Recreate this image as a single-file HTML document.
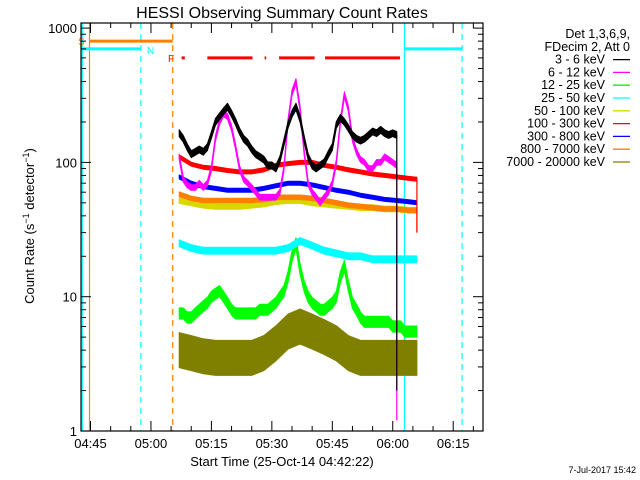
<!DOCTYPE html>
<html><head><meta charset="utf-8">
<style>
html,body{margin:0;padding:0;background:#fff;}
svg{display:block;font-family:"Liberation Sans",sans-serif;}
</style></head>
<body>
<svg id="chart" width="640" height="480" viewBox="0 0 640 480">
<text x="282" y="18" font-size="16" text-anchor="middle">HESSI Observing Summary Count Rates</text>
<g id="marks"></g>
<g id="axes"></g>
<text transform="translate(34,226) rotate(-90)" font-size="13" text-anchor="middle">Count Rate (s<tspan dy="-5" font-size="9">−1</tspan><tspan dy="5"> detector</tspan><tspan dy="-5" font-size="9">−1</tspan><tspan dy="5">)</tspan></text>
<text x="282" y="466" font-size="13" text-anchor="middle">Start Time (25-Oct-14 04:42:22)</text>
<text x="636" y="473" font-size="9" text-anchor="end">7-Jul-2017 15:42</text>
<g id="legend" font-size="12.5" text-anchor="end"></g>
</svg>
<script>
// time in minutes after 04:45
const tickLabels = ["04:45","05:00","05:15","05:30","05:45","06:00","06:15"];
const tickMinutes = [0,15,30,45,60,75,90];
const yTickValues = [1,10,100,1000];
const yTickLabels = ["1","10","100","1000"];
const startMin = 22;
const black = [165,150,130,115,120,125,120,130,160,200,220,240,260,230,200,170,150,140,125,115,110,105,95,95,90,105,140,190,230,260,210,150,110,95,90,95,100,115,130,190,215,200,180,160,150,145,150,160,170,165,175,165,160,165,160];
const magenta = [110,75,68,65,65,70,65,70,90,150,200,230,220,180,130,90,75,70,65,60,55,55,55,55,55,60,90,200,330,400,250,120,70,60,55,50,55,60,70,100,200,320,250,150,120,105,100,90,90,100,100,110,105,100,95];
const green = [7.5,7.5,7,7,7.5,8,8.5,9,10,10.5,11,10,9,8,7.5,7.5,7.5,7.5,7.5,7.5,8,8,8,8.5,9,10,11,14,20,25,16,12,10,9,8.5,8,8,8.5,9,10,14,17,12,9,8,7,6.5,6.5,6.5,6.5,6.5,6.5,6.5,6,6,6,5.5,5.5,5.5,5.5];
const tFlat = [22,25,28,31,34,37,40,43,46,49,52,55,58,61,64,67,70,73,76,79,81];
const red = [110,97,92,90,87,85,85,88,95,98,100,100,95,92,88,85,82,80,78,76,75];
const blue = [78,70,66,64,62,62,62,64,67,70,70,68,65,62,60,57,55,53,52,51,50];
const orange = [58,54,52,52,52,52,52,53,55,55,55,54,52,50,48,47,46,45,45,44,44];
const yellow = [52,50,48,47,47,47,48,49,51,52,52,50,49,48,47,46,46,45,45,44,44];
const cyan = [25,23,22,22,22,22,22,22,22,23,26,24,22,21,20,20,19,19,19,19,19];
const olive = [4,3.8,3.6,3.5,3.5,3.5,3.5,3.8,4.5,5.5,6,5.5,5,4.5,3.8,3.5,3.5,3.5,3.5,3.5,3.5];
const legendLabels = ["3 - 6 keV","6 - 12 keV","12 - 25 keV","25 - 50 keV","50 - 100 keV","100 - 300 keV","300 - 800 keV","800 - 7000 keV","7000 - 20000 keV"];
const legendColors = ["#000000","#ff00ff","#00ff00","#00ffff","#d8d800","#ff0000","#0000ff","#ff8000","#808000"];

const NS="http://www.w3.org/2000/svg";
const L=81,R=483,T=23,B=431;
function xOf(m){return 90.5+4.03*m;}
function yOf(v){return 431-134.3*Math.log10(v);}
function mk(tag,attrs,parent){const e=document.createElementNS(NS,tag);for(const k in attrs)e.setAttribute(k,attrs[k]);parent.appendChild(e);return e;}
const marks=document.getElementById('marks'),axes=document.getElementById('axes'),leg=document.getElementById('legend');

function vline(m,color,dash,name){const e=mk('line',{x1:xOf(m),x2:xOf(m),y1:T,y2:B,stroke:color,'stroke-width':1.2,'stroke-dasharray':dash||'none'},marks);

}
vline(-2.05,"#00ffff","", "night-end-prev-line");
vline(-0.25,"#ff8000","", "saa-start-line");
vline(12.5,"#00ffff","6,5","night-end-line");
vline(20.4,"#ff8000","6,5","saa-end-line");
vline(77.9,"#00ffff","", "night-start-line");
vline(92.2,"#00ffff","6,5","night2-end-line");
function hbar(m1,m2,v,color,w,name){const e=mk('line',{x1:xOf(m1),x2:xOf(m2),y1:yOf(v),y2:yOf(v),stroke:color,'stroke-width':w},marks);

}
hbar(-0.25,20.4,800,"#ff8000",3,"saa-bar");
hbar(-2.3,12.5,700,"#00ffff",3,"night-bar");
hbar(77.9,92.2,700,"#00ffff",3,"night2-bar");
const flareSegs=[[22.6,23.4],[29,40.2],[43.2,43.6],[46.8,55.6],[58.2,76.8]];
flareSegs.forEach(s=>{const e=mk('line',{x1:xOf(s[0]),x2:xOf(s[1]),y1:yOf(600),y2:yOf(600),stroke:"#ff0000",'stroke-width':3},marks);

});
function lbl(x,y,t,c,name){const e=mk('text',{x:x,y:y,fill:c,'font-size':10},marks);e.textContent=t;

}
lbl(78,yOf(800)+4,"S","#ff8000","saa-label");
lbl(147,yOf(700)+5,"N","#00ffff","night-label");
lbl(168,yOf(600)+4,"F","#ff0000","flare-label");

function band(times,vals,color,f,name,endDrop){
  let top=[],bot=[];
  times.forEach((t,i)=>{top.push(xOf(t).toFixed(1)+','+yOf(vals[i]*f).toFixed(1));});
  for(let i=times.length-1;i>=0;i--)bot.push(xOf(times[i]).toFixed(1)+','+yOf(vals[i]/f).toFixed(1));
  const p=mk('polygon',{points:top.concat(bot).join(' '),fill:color,stroke:color,'stroke-width':1,'stroke-linejoin':'round'},marks);
  
  
  if(endDrop){const tl=times[times.length-1];const d=mk('line',{x1:xOf(tl),x2:xOf(tl),y1:yOf(vals[vals.length-1]),y2:yOf(endDrop),stroke:color,'stroke-width':1.2},marks);
  
  }
}
function seq(n){const a=[];for(let i=0;i<n;i++)a.push(startMin+i);return a;}
band(tFlat,olive,"#808000",1.35,"series-7000-20000");
band(seq(green.length),green,"#00ff00",1.1,"series-12-25");
band(tFlat,cyan,"#00ffff",1.06,"series-25-50");
band(tFlat,yellow,"#d8d800",1.05,"series-50-100");
band(tFlat,orange,"#ff8000",1.04,"series-800-7000",30);
band(tFlat,blue,"#0000ff",1.035,"series-300-800");
band(tFlat,red,"#ff0000",1.035,"series-100-300",30);
band(seq(magenta.length),magenta,"#ff00ff",1.05,"series-6-12",1.2);
band(seq(black.length),black,"#000000",1.06,"series-3-6",2);

const frame=mk('rect',{x:L,y:T,width:R-L,height:B-T,fill:'none',stroke:'#000','stroke-width':1.2},axes);


for(let m=-5;m<=100;m+=5){const x=xOf(m);if(x<L||x>R)continue;const len=(m%15===0)?10:5;
  mk('line',{x1:x,x2:x,y1:B,y2:B-len,stroke:'#000'},axes);mk('line',{x1:x,x2:x,y1:T,y2:T+len,stroke:'#000'},axes);}
tickLabels.forEach((t,i)=>{const e=mk('text',{x:xOf(tickMinutes[i]),y:448,'font-size':13,'text-anchor':'middle'},axes);e.textContent=t;

});
for(let d=0;d<4;d++)for(let k=1;k<10;k++){const v=Math.pow(10,d)*k;const y=yOf(v);if(y<T)continue;const len=k===1?10:5;
  mk('line',{x1:L,x2:L+len,y1:y,y2:y,stroke:'#000'},axes);mk('line',{x1:R,x2:R-len,y1:y,y2:y,stroke:'#000'},axes);}
yTickValues.forEach((v,i)=>{const e=mk('text',{x:77,y:yOf(v)+5,'font-size':13,'text-anchor':'end'},axes);e.textContent=yTickLabels[i];

});

const hdr=["Det 1,3,6,9,","FDecim 2, Att 0"];
hdr.forEach((h,i)=>{const e=mk('text',{x:630,y:38+i*12.8},leg);e.textContent=h;

});
legendLabels.forEach((t,i)=>{const y=38+(i+2)*12.8;const g=mk('g',{},leg);


const e=mk('text',{x:605,y:y},g);e.textContent=t;mk('line',{x1:613,x2:630,y1:y-4,y2:y-4,stroke:legendColors[i],'stroke-width':1.3},g);});
</script>
</body></html>
